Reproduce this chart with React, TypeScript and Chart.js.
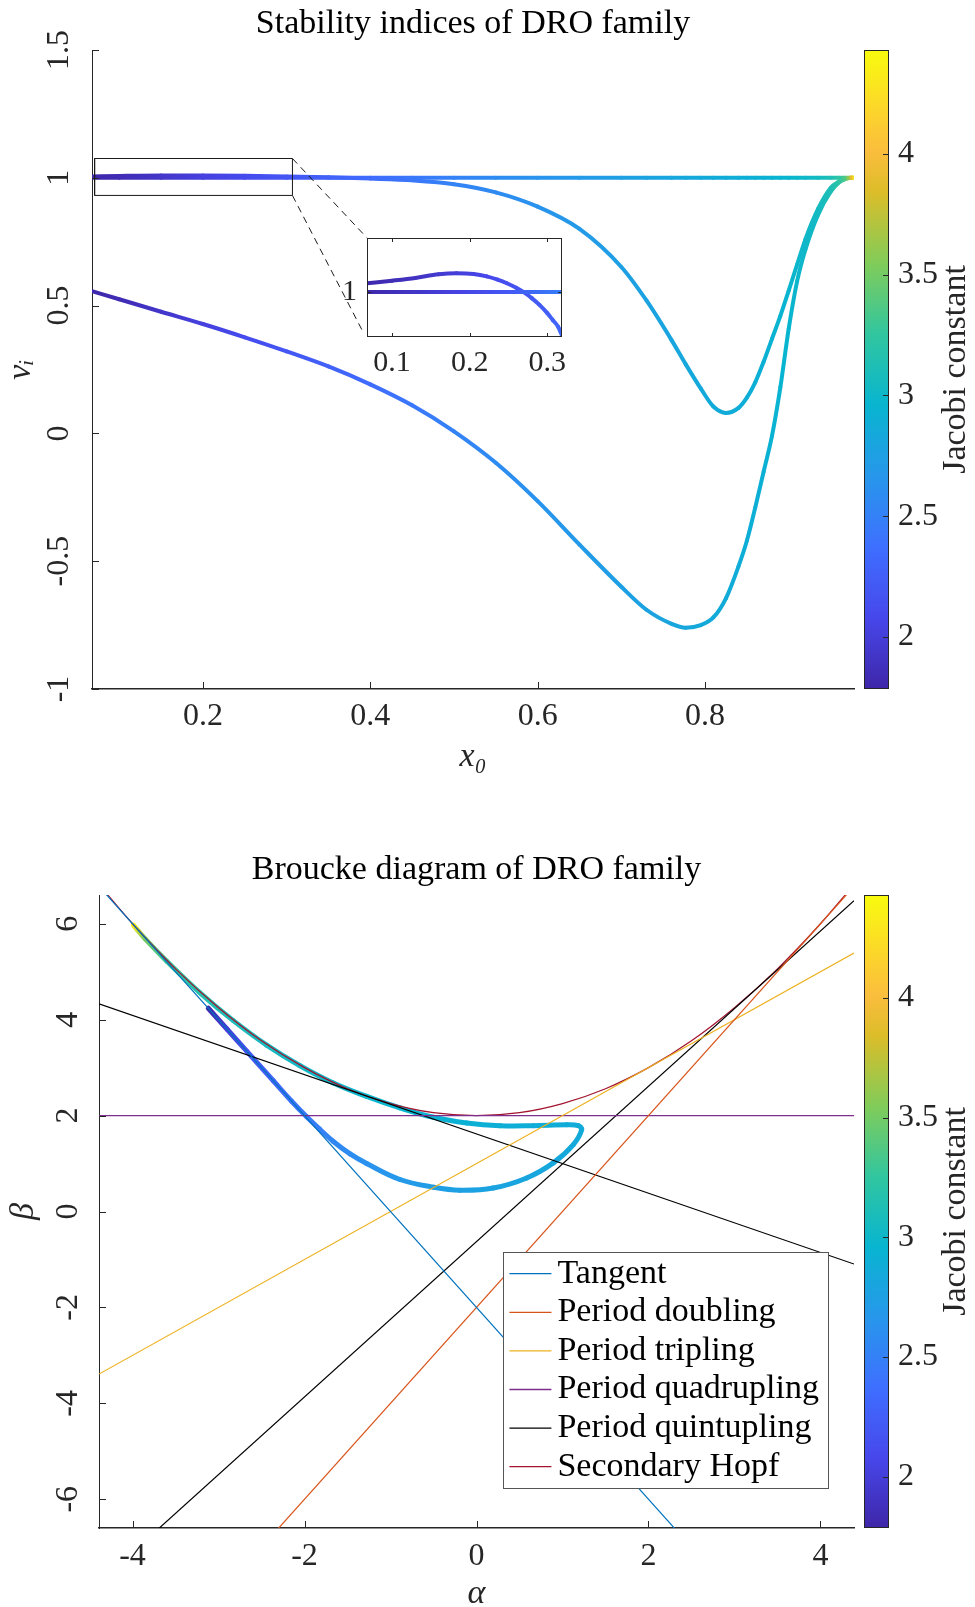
import React, { useEffect, useRef } from 'react';
import { Chart, registerables } from 'chart.js';

Chart.register(...registerables);

const FONT = "'Liberation Serif', 'Times New Roman', serif";
const AXIS_COLOR = '#262626';
Chart.defaults.font.family = FONT;

// ---------------- Colour scale (Jacobi constant) ----------------
const jacobiRange = [1.785, 4.43];
const colorbarTicks = [2, 2.5, 3, 3.5, 4];
const parulaStops: [number, number[]][] = [
  [0 / 9, [0.2422, 0.1504, 0.6603]],
  [1 / 9, [0.2803, 0.2782, 0.9221]],
  [2 / 9, [0.244, 0.4358, 0.9988]],
  [3 / 9, [0.154, 0.5902, 0.9218]],
  [4 / 9, [0.0297, 0.7082, 0.8163]],
  [5 / 9, [0.1938, 0.7758, 0.6251]],
  [6 / 9, [0.5044, 0.7993, 0.348]],
  [7 / 9, [0.8634, 0.7406, 0.1596]],
  [0.84, [0.98, 0.74, 0.24]],
  [8 / 9, [0.9892, 0.8136, 0.1885]],
  [9 / 9, [0.9763, 0.9831, 0.0538]],
];

// ---------------- Stability indices of DRO family ----------------
const topXRange = [0.0675, 0.978];
const topYRange = [-1, 1.5];
const topXTicks = [0.2, 0.4, 0.6, 0.8];
const topYTicks = [-1, -0.5, 0, 0.5, 1, 1.5];

const x0Values = [0.0675, 0.1, 0.15, 0.2, 0.25, 0.3, 0.35, 0.4, 0.45, 0.5, 0.55, 0.6, 0.65, 0.7, 0.73, 0.76, 0.777, 0.795, 0.81, 0.825, 0.84, 0.85, 0.86, 0.87, 0.88, 0.89, 0.9, 0.91, 0.92, 0.935, 0.95, 0.96, 0.967, 0.972, 0.975, 0.978];
const nu1Values = [0.556, 0.525, 0.476, 0.428, 0.376, 0.321, 0.262, 0.192, 0.11, 0.008, -0.115, -0.265, -0.435, -0.6, -0.69, -0.745, -0.76, -0.75, -0.72, -0.645, -0.52, -0.42, -0.29, -0.15, -0.01, 0.18, 0.41, 0.595, 0.72, 0.855, 0.945, 0.982, 0.995, 0.999, 1.0, 1.0];
const nu2Values = [1.005, 1.007, 1.009, 1.009, 1.008, 1.005, 1.002, 0.997, 0.99, 0.975, 0.943, 0.887, 0.8, 0.651, 0.52, 0.365, 0.27, 0.175, 0.105, 0.08, 0.1, 0.14, 0.2, 0.28, 0.37, 0.46, 0.559, 0.66, 0.76, 0.878, 0.96, 0.985, 0.995, 0.999, 1.0, 1.0];
const nu3Values = [1, 1, 1, 1, 1, 1, 1, 1, 1, 1, 1, 1, 1, 1, 1, 1, 1, 1, 1, 1, 1, 1, 1, 1, 1, 1, 1, 1, 1, 1, 1, 1, 1, 1, 1, 1];
const jacobiTop = [1.79, 1.84, 1.93, 2.02, 2.11, 2.19, 2.27, 2.35, 2.43, 2.51, 2.58, 2.64, 2.7, 2.75, 2.78, 2.81, 2.83, 2.85, 2.86, 2.87, 2.89, 2.9, 2.91, 2.92, 2.94, 2.95, 2.97, 2.99, 3.01, 3.05, 3.12, 3.22, 3.35, 3.6, 3.9, 4.35];

// zoom rectangle and connector lines (data coordinates of the main axes)
const zoomBoxX = [0.0706, 0.307, 0.307, 0.0706, 0.0706];
const zoomBoxY = [0.931, 0.931, 1.0755, 1.0755, 0.931];
const connectorTopX = [0.307, 0.3958];
const connectorTopY = [1.0755, 0.766];
const connectorBottomX = [0.307, 0.391];
const connectorBottomY = [0.931, 0.399];

// inset
const insetXRange = [0.0677, 0.319];
const insetYRange = [0.934, 1.079];
const insetXTicks = [0.1, 0.2, 0.3];
const insetYTicks = [1];
const insetFlatX = [0.0677, 0.13, 0.19, 0.25, 0.319];
const insetFlatY = [1, 1, 1, 1, 1];
const insetFlatJacobi = [1.79, 1.92, 2.05, 2.2, 2.48];
const insetUpperX = [0.0677, 0.1, 0.13, 0.16, 0.183, 0.205, 0.222, 0.236, 0.248, 0.26, 0.269, 0.28, 0.29, 0.3, 0.307, 0.314, 0.319];
const insetUpperY = [1.0127, 1.0165, 1.0205, 1.0258, 1.0273, 1.0262, 1.0228, 1.018, 1.0127, 1.006, 1.0, 0.991, 0.981, 0.969, 0.959, 0.949, 0.936];
const insetUpperJacobi = [1.8, 1.85, 1.9, 1.96, 2.0, 2.04, 2.08, 2.11, 2.14, 2.17, 2.19, 2.21, 2.23, 2.25, 2.27, 2.29, 2.31];

// ---------------- Broucke diagram ----------------
const alphaRange = [-4.39, 4.39];
const betaRange = [-6.6, 6.6];
const alphaTicks = [-4, -2, 0, 2, 4];
const betaTicks = [-6, -4, -2, 0, 2, 4, 6];

const tangentAlpha = [-4.39, 2.4];
const tangentBeta = [6.78, -6.8];
const doublingAlpha = [-2.4, 4.39];
const doublingBeta = [-6.8, 6.78];
const triplingAlpha = [-4.39, 4.39];
const triplingBeta = [-3.39, 5.39];
const quadruplingAlpha = [-4.39, 4.39];
const quadruplingBeta = [2, 2];
const quintuplingAAlpha = [-4.39, 4.39];
const quintuplingABeta = [4.33, -1.095];
const quintuplingBAlpha = [-3.75, 4.39];
const quintuplingBBeta = [-6.7, 6.48];
const hopfAlpha = [-4.39, -4, -3.5, -3, -2.5, -2, -1.5, -1, -0.5, 0, 0.5, 1, 1.5, 2, 2.5, 3, 3.5, 4, 4.39];
const hopfBeta = [6.82, 6, 5.06, 4.25, 3.56, 3, 2.56, 2.25, 2.06, 2, 2.06, 2.25, 2.56, 3, 3.56, 4.25, 5.06, 6, 6.82];

const familyAlpha = [-3.119, -2.9, -2.672, -2.363, -2.15, -1.975, -1.82, -1.665, -1.47, -1.277, -0.89, -0.502, -0.192, 0.195, 0.584, 0.893, 1.126, 1.223, 1.184, 1.049, 0.66, 0.273, -0.114, -0.502, -0.89, -1.277, -1.665, -2.052, -2.44, -2.828, -3.215, -3.602, -3.85, -3.99];
const familyBeta = [4.238, 3.8, 3.344, 2.726, 2.3, 1.975, 1.71, 1.46, 1.2, 1.0, 0.667, 0.507, 0.444, 0.49, 0.7, 1.014, 1.396, 1.708, 1.79, 1.81, 1.79, 1.79, 1.847, 1.965, 2.16, 2.4, 2.68, 3.04, 3.47, 3.98, 4.56, 5.22, 5.68, 5.97];
const familyJacobi = [1.79, 2.0, 2.15, 2.3, 2.4, 2.45, 2.5, 2.55, 2.59, 2.63, 2.69, 2.73, 2.76, 2.79, 2.81, 2.83, 2.85, 2.86, 2.87, 2.88, 2.89, 2.9, 2.92, 2.94, 2.96, 2.98, 3.0, 3.03, 3.06, 3.1, 3.16, 3.28, 3.5, 4.3];

const legendColors = {
  tangent: '#0072BD',
  doubling: '#D95319',
  tripling: '#EDB120',
  quadrupling: '#7E2F8E',
  quintupling: '#000000',
  hopf: '#A2142F',
};

// ---------------- helpers ----------------
function parula(v: number): string {
  const t = Math.min(1, Math.max(0, (v - jacobiRange[0]) / (jacobiRange[1] - jacobiRange[0])));
  for (let i = 1; i < parulaStops.length; i++) {
    const [t1, c1] = parulaStops[i];
    const [t0, c0] = parulaStops[i - 1];
    if (t <= t1) {
      const f = (t - t0) / (t1 - t0);
      const c = c0.map((a, k) => Math.round(255 * (a + (c1[k] - a) * f)));
      return `rgb(${c[0]},${c[1]},${c[2]})`;
    }
  }
  const c = parulaStops[parulaStops.length - 1][1].map((a) => Math.round(255 * a));
  return `rgb(${c[0]},${c[1]},${c[2]})`;
}

function pts(xs: number[], ys: number[]) {
  return xs.map((x, i) => ({ x, y: ys[i] }));
}

function gradientSegment(c2d: CanvasRenderingContext2D, jac: number[]) {
  return (ctx: any) => {
    const { p0, p1 } = ctx;
    if (Math.abs(p0.x - p1.x) < 0.01 && Math.abs(p0.y - p1.y) < 0.01) return parula(jac[ctx.p0DataIndex]);
    const g = c2d.createLinearGradient(p0.x, p0.y, p1.x, p1.y);
    g.addColorStop(0, parula(jac[ctx.p0DataIndex]));
    g.addColorStop(1, parula(jac[ctx.p1DataIndex]));
    return g;
  };
}

const fixedTicks = (values: number[]) => (scale: any) => {
  scale.ticks = values.map((value) => ({ value }));
};

const inwardTicks = {
  id: 'inwardTicks',
  afterDatasetsDraw(chart: any, _args: any, opts: any) {
    const { ctx, chartArea: a, scales } = chart;
    const len = opts.length ?? 7;
    ctx.save();
    ctx.strokeStyle = AXIS_COLOR;
    ctx.lineWidth = 1;
    ctx.beginPath();
    for (const t of scales.x.ticks) {
      const px = Math.round(scales.x.getPixelForValue(t.value)) + 0.5;
      ctx.moveTo(px, a.bottom);
      ctx.lineTo(px, a.bottom - len);
      if (opts.box) {
        ctx.moveTo(px, a.top);
        ctx.lineTo(px, a.top + len);
      }
    }
    for (const t of scales.y.ticks) {
      const py = Math.round(scales.y.getPixelForValue(t.value)) + 0.5;
      ctx.moveTo(a.left, py);
      ctx.lineTo(a.left + len, py);
      if (opts.box) {
        ctx.moveTo(a.right, py);
        ctx.lineTo(a.right - len, py);
      }
    }
    ctx.stroke();
    if (opts.box) {
      ctx.strokeRect(Math.round(a.left) + 0.5, Math.round(a.top) + 0.5, Math.round(a.width) - 1, Math.round(a.height) - 1);
    }
    ctx.restore();
  },
};

const whiteArea = {
  id: 'whiteArea',
  beforeDatasetsDraw(chart: any) {
    const { ctx, chartArea: a } = chart;
    ctx.save();
    ctx.fillStyle = '#ffffff';
    ctx.fillRect(a.left, a.top, a.width, a.height);
    ctx.restore();
  },
};

const colorbarPlugin = {
  id: 'colorbar',
  afterDraw(chart: any, _args: any, opts: any) {
    const s = chart.scales.cb;
    const a = chart.chartArea;
    const ctx = chart.ctx;
    const x = a.right + opts.gap;
    const w = opts.width;
    const top = s.top;
    const bottom = s.bottom;
    ctx.save();
    const g = ctx.createLinearGradient(0, bottom, 0, top);
    parulaStops.forEach(([t, c]) => g.addColorStop(t, `rgb(${c.map((k) => Math.round(k * 255)).join(',')})`));
    ctx.fillStyle = g;
    ctx.fillRect(x, top, w, bottom - top);
    ctx.strokeStyle = AXIS_COLOR;
    ctx.lineWidth = 1;
    ctx.strokeRect(Math.round(x) + 0.5, Math.round(top) + 0.5, w, Math.round(bottom - top) - 1);
    ctx.beginPath();
    for (const t of s.ticks) {
      const py = Math.round(s.getPixelForValue(t.value)) + 0.5;
      ctx.moveTo(x + w, py);
      ctx.lineTo(x + w - 5, py);
    }
    ctx.stroke();
    ctx.translate(opts.titleX, (top + bottom) / 2);
    ctx.rotate(-Math.PI / 2);
    ctx.textAlign = 'center';
    ctx.textBaseline = 'middle';
    ctx.font = `34px ${FONT}`;
    ctx.fillStyle = AXIS_COLOR;
    ctx.fillText(opts.title, 0, 0);
    ctx.restore();
  },
};

const brouckeLegend = {
  id: 'brouckeLegend',
  afterDraw(chart: any, _args: any, opts: any) {
    const ctx = chart.ctx;
    const a = chart.chartArea;
    const items = chart.data.datasets.filter((d: any) => d.inLegend);
    ctx.save();
    ctx.font = `${opts.fontSize}px ${FONT}`;
    const tw = Math.max(...items.map((d: any) => ctx.measureText(d.label).width));
    const w = 6 + 42 + 6 + tw + 9;
    const h = items.length * opts.rowHeight + 4;
    const right = a.right - opts.offsetRight;
    const bottom = a.bottom - opts.offsetBottom;
    const left = right - w;
    const top = bottom - h;
    ctx.fillStyle = '#ffffff';
    ctx.fillRect(left, top, w, h);
    ctx.strokeStyle = '#555555';
    ctx.lineWidth = 1;
    ctx.strokeRect(Math.round(left) + 0.5, Math.round(top) + 0.5, Math.round(w), Math.round(h));
    items.forEach((d: any, i: number) => {
      const cy = top + 2 + opts.rowHeight * (i + 0.5);
      ctx.strokeStyle = d.borderColor;
      ctx.lineWidth = 1.3;
      ctx.beginPath();
      ctx.moveTo(left + 6, cy);
      ctx.lineTo(left + 48, cy);
      ctx.stroke();
      ctx.fillStyle = '#000000';
      ctx.textAlign = 'left';
      ctx.textBaseline = 'middle';
      ctx.fillText(d.label, left + 54, cy);
    });
    ctx.restore();
  },
};

const tickFont = { family: FONT, size: 32 };
const labelFont = { family: FONT, size: 34, style: 'italic' as const };
const titleFont = { family: FONT, size: 34, weight: 'normal' as const };

function colorbarScale() {
  return {
    type: 'linear',
    position: 'right',
    min: jacobiRange[0],
    max: jacobiRange[1],
    bounds: 'data',
    afterBuildTicks: fixedTicks(colorbarTicks),
    grid: { display: false, drawTicks: false },
    border: { display: false },
    ticks: { font: tickFont, color: AXIS_COLOR, padding: 44, autoSkip: false, callback: (v: number) => String(v) },
    afterFit: (s: any) => {
      s.width = 121;
      s.paddingTop = 0;
      s.paddingBottom = 0;
    },
  };
}

function baseOptions() {
  return {
    responsive: false,
    animation: false,
    devicePixelRatio: 1,
    events: [],
  };
}

function makeTopChart(canvas: HTMLCanvasElement) {
  const c2d = canvas.getContext('2d') as CanvasRenderingContext2D;
  const curve = (ys: number[]) => ({
    data: pts(x0Values, ys),
    borderColor: parula(jacobiTop[0]),
    borderWidth: 4,
    pointRadius: 0,
    cubicInterpolationMode: 'monotone',
    borderCapStyle: 'round',
    borderJoinStyle: 'round',
    segment: { borderColor: gradientSegment(c2d, jacobiTop) },
  });
  const thin = (xs: number[], ys: number[], dash: number[]) => ({
    data: pts(xs, ys),
    borderColor: '#1a1a1a',
    borderWidth: 1,
    borderDash: dash,
    pointRadius: 0,
    tension: 0,
  });
  return new Chart(canvas, {
    type: 'line',
    data: {
      datasets: [
        thin(zoomBoxX, zoomBoxY, []),
        thin(connectorTopX, connectorTopY, [7, 5]),
        thin(connectorBottomX, connectorBottomY, [7, 5]),
        curve(nu3Values),
        curve(nu2Values),
        curve(nu1Values),
      ] as any,
    },
    options: {
      ...baseOptions(),
      plugins: {
        legend: { display: false },
        tooltip: { enabled: false },
        title: {
          display: true,
          fullSize: false,
          text: 'Stability indices of DRO family',
          font: titleFont,
          color: '#000000',
          padding: { top: 3.6, bottom: 5.6 },
        },
        inwardTicks: { length: 7, box: false },
        colorbar: { gap: 10, width: 24, titleX: 956, title: 'Jacobi constant' },
      } as any,
      scales: {
        x: {
          type: 'linear',
          min: topXRange[0],
          max: topXRange[1],
          bounds: 'data',
          afterBuildTicks: fixedTicks(topXTicks),
          grid: { display: false, drawTicks: false },
          border: { color: AXIS_COLOR, width: 1.5 },
          ticks: { font: tickFont, color: AXIS_COLOR, padding: 8, autoSkip: false, maxRotation: 0, callback: (v: number) => String(v) },
          title: { display: true, text: 'x₀', font: labelFont, color: AXIS_COLOR, padding: { top: 0, bottom: 22.6 } },
          afterFit: (s: any) => {
            s.height = 111;
          },
        },
        y: {
          type: 'linear',
          min: topYRange[0],
          max: topYRange[1],
          bounds: 'data',
          afterBuildTicks: fixedTicks(topYTicks),
          grid: { display: false, drawTicks: false },
          border: { color: AXIS_COLOR, width: 1 },
          ticks: { font: tickFont, color: AXIS_COLOR, padding: 7, autoSkip: false, minRotation: 90, maxRotation: 90, crossAlign: 'center', callback: (v: number) => String(v) },
          title: { display: true, text: 'νᵢ', font: labelFont, color: AXIS_COLOR, padding: { top: 1, bottom: 0 } },
          afterFit: (s: any) => {
            s.width = 92;
            s.paddingTop = 0;
            s.paddingBottom = 0;
          },
        },
        cb: colorbarScale(),
      } as any,
    },
    plugins: [inwardTicks, colorbarPlugin],
  } as any);
}

function makeInsetChart(canvas: HTMLCanvasElement) {
  const c2d = canvas.getContext('2d') as CanvasRenderingContext2D;
  const curve = (xs: number[], ys: number[], jac: number[]) => ({
    data: pts(xs, ys),
    borderColor: parula(jac[0]),
    borderWidth: 4,
    pointRadius: 0,
    cubicInterpolationMode: 'monotone',
    borderCapStyle: 'round',
    borderJoinStyle: 'round',
    segment: { borderColor: gradientSegment(c2d, jac) },
  });
  return new Chart(canvas, {
    type: 'line',
    data: {
      datasets: [curve(insetFlatX, insetFlatY, insetFlatJacobi), curve(insetUpperX, insetUpperY, insetUpperJacobi)] as any,
    },
    options: {
      ...baseOptions(),
      layout: { padding: { top: 38, right: 18, left: 0, bottom: 0 } },
      plugins: {
        legend: { display: false },
        tooltip: { enabled: false },
        title: { display: false },
        inwardTicks: { length: 4, box: true },
      } as any,
      scales: {
        x: {
          type: 'linear',
          min: insetXRange[0],
          max: insetXRange[1],
          bounds: 'data',
          afterBuildTicks: fixedTicks(insetXTicks),
          grid: { display: false, drawTicks: false },
          border: { display: false },
          ticks: { font: { family: FONT, size: 30 }, color: AXIS_COLOR, padding: 8.5, autoSkip: false, maxRotation: 0, callback: (v: number) => String(v) },
          afterFit: (s: any) => {
            s.height = 53;
            s.paddingLeft = 0;
            s.paddingRight = 0;
          },
        },
        y: {
          type: 'linear',
          min: insetYRange[0],
          max: insetYRange[1],
          bounds: 'data',
          afterBuildTicks: fixedTicks(insetYTicks),
          grid: { display: false, drawTicks: false },
          border: { display: false },
          ticks: { font: { family: FONT, size: 30 }, color: AXIS_COLOR, padding: 10, autoSkip: false, callback: (v: number) => String(v) },
          afterFit: (s: any) => {
            s.width = 67;
            s.paddingTop = 0;
            s.paddingBottom = 0;
          },
        },
      } as any,
    },
    plugins: [whiteArea, inwardTicks],
  } as any);
}

function makeBottomChart(canvas: HTMLCanvasElement) {
  const c2d = canvas.getContext('2d') as CanvasRenderingContext2D;
  const line = (label: string, color: string, xs: number[], ys: number[], inLegend: boolean, smooth = false) => ({
    label,
    inLegend,
    data: pts(xs, ys),
    borderColor: color,
    borderWidth: 1.2,
    pointRadius: 0,
    tension: 0,
    cubicInterpolationMode: smooth ? 'monotone' : 'default',
  });
  const family = {
    label: 'DRO family',
    inLegend: false,
    data: pts(familyAlpha, familyBeta),
    borderColor: parula(familyJacobi[0]),
    borderWidth: 5,
    pointRadius: 0,
    tension: 0.4,
    borderCapStyle: 'round',
    borderJoinStyle: 'round',
    segment: { borderColor: gradientSegment(c2d, familyJacobi) },
  };
  return new Chart(canvas, {
    type: 'line',
    data: {
      datasets: [
        line('Tangent', legendColors.tangent, tangentAlpha, tangentBeta, true),
        line('Period doubling', legendColors.doubling, doublingAlpha, doublingBeta, true),
        line('Period tripling', legendColors.tripling, triplingAlpha, triplingBeta, true),
        line('Period quadrupling', legendColors.quadrupling, quadruplingAlpha, quadruplingBeta, true),
        line('Period quintupling', legendColors.quintupling, quintuplingAAlpha, quintuplingABeta, true),
        line('Period quintupling (2)', legendColors.quintupling, quintuplingBAlpha, quintuplingBBeta, false),
        line('Secondary Hopf', legendColors.hopf, hopfAlpha, hopfBeta, true, true),
        family,
      ] as any,
    },
    options: {
      ...baseOptions(),
      plugins: {
        legend: { display: false },
        tooltip: { enabled: false },
        title: {
          display: true,
          fullSize: false,
          text: 'Broucke diagram of DRO family',
          font: titleFont,
          color: '#000000',
          padding: { top: 49.6, bottom: 4.6 },
        },
        inwardTicks: { length: 7, box: false },
        colorbar: { gap: 10, width: 24, titleX: 956, title: 'Jacobi constant' },
        brouckeLegend: { fontSize: 34, rowHeight: 38.6, offsetRight: 26, offsetBottom: 40 },
      } as any,
      scales: {
        x: {
          type: 'linear',
          min: alphaRange[0],
          max: alphaRange[1],
          bounds: 'data',
          afterBuildTicks: fixedTicks(alphaTicks),
          grid: { display: false, drawTicks: false },
          border: { color: AXIS_COLOR, width: 1.5 },
          ticks: { font: tickFont, color: AXIS_COLOR, padding: 9, autoSkip: false, maxRotation: 0, callback: (v: number) => String(v) },
          title: { display: true, text: 'α', font: labelFont, color: AXIS_COLOR, padding: { top: 0, bottom: 15.6 } },
          afterFit: (s: any) => {
            s.height = 102;
          },
        },
        y: {
          type: 'linear',
          min: betaRange[0],
          max: betaRange[1],
          bounds: 'data',
          afterBuildTicks: fixedTicks(betaTicks),
          grid: { display: false, drawTicks: false },
          border: { color: AXIS_COLOR, width: 1 },
          ticks: { font: tickFont, color: AXIS_COLOR, padding: 16.7, autoSkip: false, minRotation: 90, maxRotation: 90, crossAlign: 'center', callback: (v: number) => String(v) },
          title: { display: true, text: 'β', font: labelFont, color: AXIS_COLOR, padding: { top: 4, bottom: 0 } },
          afterFit: (s: any) => {
            s.width = 99;
            s.paddingTop = 0;
            s.paddingBottom = 0;
          },
        },
        cb: colorbarScale(),
      } as any,
    },
    plugins: [inwardTicks, colorbarPlugin, brouckeLegend],
  } as any);
}

export default function App() {
  const topRef = useRef<HTMLCanvasElement>(null);
  const insetRef = useRef<HTMLCanvasElement>(null);
  const bottomRef = useRef<HTMLCanvasElement>(null);

  useEffect(() => {
    document.body.style.margin = '0';
    const charts: Chart[] = [];
    if (topRef.current) charts.push(makeTopChart(topRef.current));
    if (insetRef.current) charts.push(makeInsetChart(insetRef.current));
    if (bottomRef.current) charts.push(makeBottomChart(bottomRef.current));
    return () => charts.forEach((c) => c.destroy());
  }, []);

  return (
    <div style={{ position: 'absolute', left: 0, top: 0, width: 975, height: 1607, overflow: 'hidden', background: '#ffffff' }}>
      <canvas ref={topRef} width={975} height={800} style={{ position: 'absolute', left: 0, top: 0, width: 975, height: 800 }} />
      <canvas ref={insetRef} width={280} height={190} style={{ position: 'absolute', left: 300, top: 200, width: 280, height: 190 }} />
      <canvas ref={bottomRef} width={975} height={830} style={{ position: 'absolute', left: 0, top: 800, width: 975, height: 830 }} />
    </div>
  );
}
